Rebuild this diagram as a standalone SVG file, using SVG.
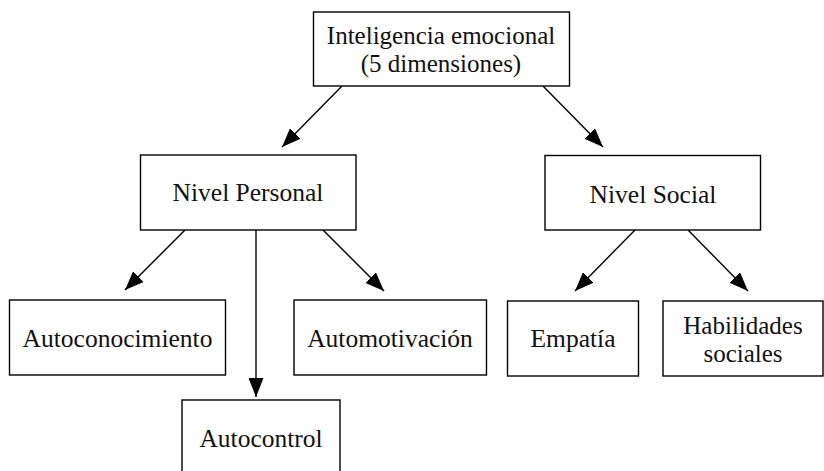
<svg xmlns="http://www.w3.org/2000/svg" width="824" height="471" viewBox="0 0 824 471">
<style>
.box{fill:#fff;stroke:#000;stroke-width:1.4}
.lbl{font-family:"Liberation Serif","Times New Roman",serif;font-size:25.5px;fill:#111;text-anchor:middle}
.lbl2{font-size:25px}
.edge{stroke:#000;stroke-width:1.4;fill:none;marker-end:url(#ah)}
</style>
<defs>
<marker id="ah" markerUnits="userSpaceOnUse" markerWidth="20" markerHeight="15" refX="19" refY="7.5" orient="auto">
<path d="M0,0 L19,7.5 L0,15 z" fill="#000"/>
</marker>
</defs>
<rect width="824" height="471" fill="#fff"/>
<g id="connectors">
<line class="edge" x1="342" y1="86" x2="282" y2="147"/>
<line class="edge" x1="543" y1="86" x2="603" y2="147"/>
<line class="edge" x1="185" y1="230" x2="125" y2="290"/>
<line class="edge" x1="256" y1="230" x2="256" y2="397"/>
<line class="edge" x1="323" y1="230" x2="384" y2="291"/>
<line class="edge" x1="635" y1="230" x2="575" y2="291"/>
<line class="edge" x1="688" y1="230" x2="748" y2="291"/>
</g>
<g id="n-root">
<rect class="box" x="313.5" y="12" width="256" height="74"/>
<text class="lbl lbl2" x="441" y="43.5">Inteligencia emocional</text>
<text class="lbl lbl2" x="441" y="71.5">(5 dimensiones)</text>
</g>
<g id="n-personal">
<rect class="box" x="140.5" y="155" width="215.5" height="75"/>
<text class="lbl" x="248" y="201">Nivel Personal</text>
</g>
<g id="n-social">
<rect class="box" x="545" y="155.5" width="215.5" height="74.5"/>
<text class="lbl" x="653" y="203">Nivel Social</text>
</g>
<g id="n-autoconocimiento">
<rect class="box" x="9.5" y="300" width="216" height="75"/>
<text class="lbl" x="117.5" y="347">Autoconocimiento</text>
</g>
<g id="n-autocontrol">
<rect class="box" x="182" y="400" width="158" height="80"/>
<text class="lbl" x="261" y="447">Autocontrol</text>
</g>
<g id="n-automotivacion">
<rect class="box" x="294" y="300" width="192.5" height="75"/>
<text class="lbl" x="390" y="347">Automotivación</text>
</g>
<g id="n-empatia">
<rect class="box" x="507.5" y="301" width="131" height="75"/>
<text class="lbl" x="573" y="347">Empatía</text>
</g>
<g id="n-habilidades">
<rect class="box" x="663" y="301" width="160" height="75"/>
<text class="lbl lbl2" x="743" y="333.5">Habilidades</text>
<text class="lbl lbl2" x="743" y="361.5">sociales</text>
</g>
</svg>
